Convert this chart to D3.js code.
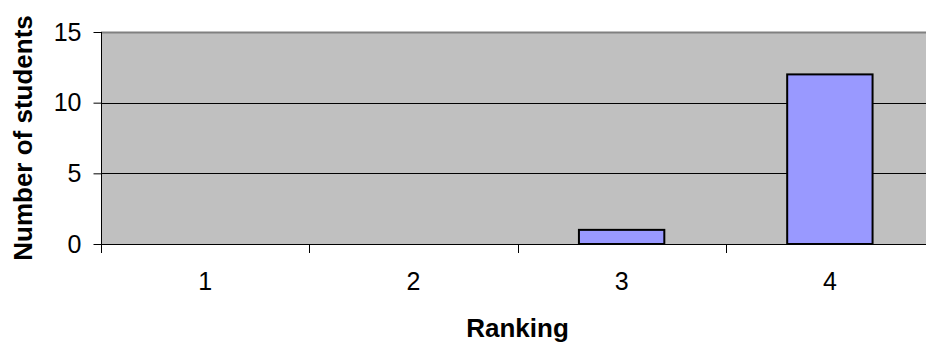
<!DOCTYPE html>
<html>
<head>
<meta charset="utf-8">
<script src="https://cdn.jsdelivr.net/npm/d3@7"></script>
<style>
  html, body { margin: 0; padding: 0; background: #fff; }
  svg { display: block; font-family: "Liberation Sans", Arial, sans-serif; }
</style>
</head>
<body>
<svg id="chart" width="926" height="344"></svg>
<script>
// Ranking distribution
const categories = ["1", "2", "3", "4"];
const students = [0, 0, 1, 12];
const yTicks = [0, 5, 10, 15];

const svg = d3.select("#chart");
const plot = { left: 101, top: 32, right: 934, bottom: 244 };
const FONT = "Liberation Sans, Arial, sans-serif";

const x = d3.scaleBand()
  .domain(categories)
  .range([plot.left, plot.right])
  .paddingInner(0.59)
  .paddingOuter(0.295);

const xBand = d3.scaleBand()
  .domain(categories)
  .range([plot.left, plot.right]);

const y = d3.scaleLinear()
  .domain([0, 15])
  .range([plot.bottom, plot.top]);

// Plot background
svg.append("rect")
  .attr("x", plot.left).attr("y", plot.top)
  .attr("width", plot.right - plot.left).attr("height", plot.bottom - plot.top)
  .attr("fill", "#c0c0c0");

// Horizontal gridlines
svg.append("g")
  .selectAll("line")
  .data(yTicks.filter(d => d > 0))
  .join("line")
  .attr("x1", plot.left).attr("x2", plot.right)
  .attr("y1", d => Math.round(y(d)) + 0.5).attr("y2", d => Math.round(y(d)) + 0.5)
  .attr("stroke", d => d === 15 ? "#808080" : "#000")
  .attr("stroke-width", d => d === 15 ? 2 : 1);

// Bars
svg.append("g")
  .selectAll("rect")
  .data(categories.map((c, i) => ({ c, v: students[i] })).filter(d => d.v > 0))
  .join("rect")
  .attr("x", d => x(d.c))
  .attr("y", d => y(d.v))
  .attr("width", x.bandwidth())
  .attr("height", d => y(0) - y(d.v))
  .attr("fill", "#9999ff")
  .attr("stroke", "#000")
  .attr("stroke-width", 2);

// Y axis
const yAxis = svg.append("g")
  .attr("transform", `translate(${plot.left + 0.5},0)`)
  .call(d3.axisLeft(y).tickValues(yTicks).tickSize(8).tickPadding(12).tickFormat(d3.format("d")));
yAxis.attr("font-size", null).attr("font-family", null);
yAxis.select(".domain").attr("stroke", "#000").attr("d", `M0,${plot.top}V${plot.bottom}`);
yAxis.selectAll(".tick line").attr("stroke", "#000");
yAxis.selectAll(".tick text")
  .attr("font-size", 25).attr("fill", "#000").attr("font-family", FONT);

// X axis: ticks at band boundaries, labels at band centres
const xg = svg.append("g");
xg.append("line")
  .attr("x1", plot.left).attr("x2", plot.right)
  .attr("y1", plot.bottom + 0.5).attr("y2", plot.bottom + 0.5)
  .attr("stroke", "#000");
xg.selectAll("line.tick")
  .data(categories)
  .join("line")
  .attr("class", "tick")
  .attr("x1", d => Math.round(xBand(d)) + 0.5).attr("x2", d => Math.round(xBand(d)) + 0.5)
  .attr("y1", plot.bottom).attr("y2", plot.bottom + 9)
  .attr("stroke", "#000");
xg.selectAll("text")
  .data(categories)
  .join("text")
  .attr("x", d => xBand(d) + xBand.bandwidth() / 2)
  .attr("y", 290)
  .attr("text-anchor", "middle")
  .attr("font-size", 25)
  .attr("font-family", FONT)
  .text(d => d);

// Axis titles
svg.append("text")
  .attr("x", (plot.left + plot.right) / 2).attr("y", 337)
  .attr("text-anchor", "middle")
  .attr("font-size", 26).attr("font-weight", "bold")
  .attr("font-family", FONT)
  .text("Ranking");

svg.append("text")
  .attr("transform", `translate(32,${(plot.top + plot.bottom) / 2}) rotate(-90)`)
  .attr("text-anchor", "middle")
  .attr("font-size", 26).attr("font-weight", "bold")
  .attr("font-family", FONT)
  .text("Number of students");
</script>
</body>
</html>
